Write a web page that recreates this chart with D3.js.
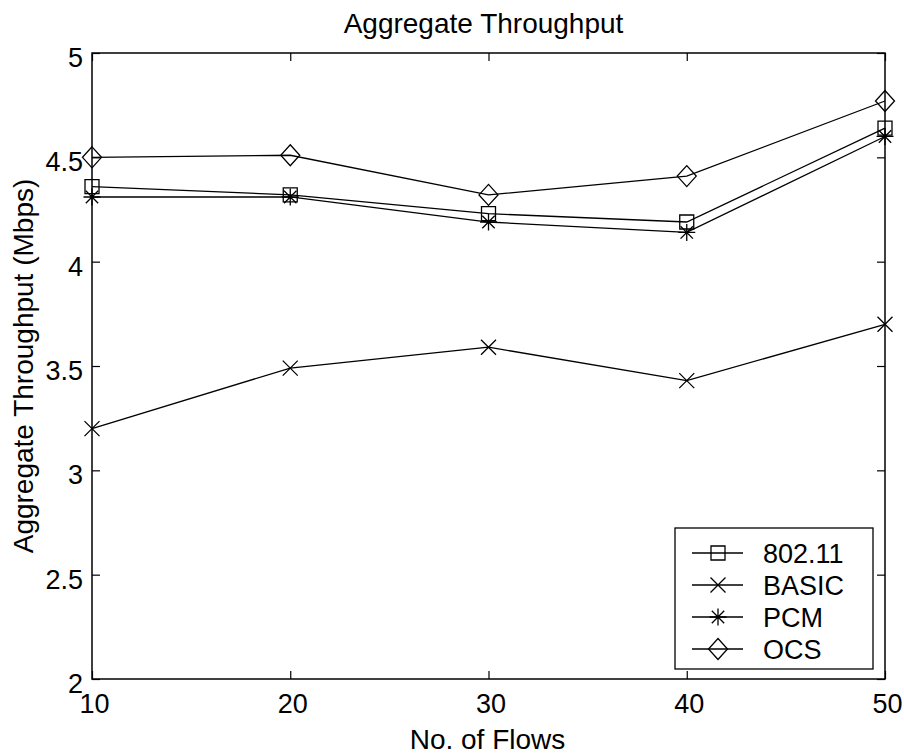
<!DOCTYPE html>
<html>
<head>
<meta charset="utf-8">
<script src="https://cdn.jsdelivr.net/npm/d3@7"></script>
<style>
  html, body { margin: 0; padding: 0; background: #fff; }
  svg { display: block; }
  text { font-family: "Liberation Sans", Arial, Helvetica, sans-serif; fill: #000; }
</style>
</head>
<body>
<svg id="chart" width="904" height="754"></svg>
<script>
// Number of flows on the x axis
const flows = [10, 20, 30, 40, 50];

// Aggregate throughput (Mbps) for each scheme
const thr80211 = [4.36, 4.32, 4.23, 4.19, 4.64];
const thrBasic = [3.20, 3.49, 3.59, 3.43, 3.70];
const thrPcm   = [4.31, 4.31, 4.19, 4.14, 4.60];
const thrOcs   = [4.50, 4.51, 4.32, 4.41, 4.77];

const seriesNames = ["802.11", "BASIC", "PCM", "OCS"];
const markerKinds = ["square", "x", "star", "diamond"];

const xTicks = [10, 20, 30, 40, 50];
const yTicks = [2, 2.5, 3, 3.5, 4, 4.5, 5];

const titleText = "Aggregate Throughput";
const xLabel = "No. of Flows";
const yLabel = "Aggregate Throughput (Mbps)";

const series = [thr80211, thrBasic, thrPcm, thrOcs].map((vals, i) => ({
  name: seriesNames[i],
  kind: markerKinds[i],
  points: vals.map((v, j) => ({ x: flows[j], y: v }))
}));

const svg = d3.select("#chart");
const plot = { left: 92, right: 885, top: 53, bottom: 679 };

const x = d3.scaleLinear().domain([10, 50]).range([plot.left, plot.right]);
const y = d3.scaleLinear().domain([2, 5]).range([plot.bottom, plot.top]);

// Marker path generators, centred on the origin
function markerPath(kind) {
  const p = d3.path();
  if (kind === "square") {
    const h = 7;
    p.rect(-h, -h, 2 * h, 2 * h);
  } else if (kind === "x") {
    const h = 7.5;
    p.moveTo(-h, -h); p.lineTo(h, h);
    p.moveTo(-h, h); p.lineTo(h, -h);
  } else if (kind === "star") {
    const h = 8.5, d = 6.2;
    p.moveTo(0, -h); p.lineTo(0, h);
    p.moveTo(-h, 0); p.lineTo(h, 0);
    p.moveTo(-d, -d); p.lineTo(d, d);
    p.moveTo(-d, d); p.lineTo(d, -d);
  } else if (kind === "diamond") {
    const w = 9.5, hh = 10.5;
    p.moveTo(0, -hh); p.lineTo(w, 0); p.lineTo(0, hh); p.lineTo(-w, 0); p.closePath();
  }
  return p.toString();
}

// Axes: ticks point inward on all four sides (boxed plot)
const tickLen = 8;
const fontTick = 27;

const gBottom = svg.append("g").attr("transform", `translate(0,${plot.bottom})`)
  .call(d3.axisBottom(x).tickValues(xTicks).tickFormat(d3.format("d"))
    .tickSizeInner(-tickLen).tickSizeOuter(0).tickPadding(15));
const gTop = svg.append("g").attr("transform", `translate(0,${plot.top})`)
  .call(d3.axisTop(x).tickValues(xTicks).tickFormat("")
    .tickSizeInner(-tickLen).tickSizeOuter(0));
const gLeft = svg.append("g").attr("transform", `translate(${plot.left},0)`)
  .call(d3.axisLeft(y).tickValues(yTicks).tickFormat(d3.format("~g"))
    .tickSizeInner(-tickLen).tickSizeOuter(0).tickPadding(9));
const gRight = svg.append("g").attr("transform", `translate(${plot.right},0)`)
  .call(d3.axisRight(y).tickValues(yTicks).tickFormat("")
    .tickSizeInner(-tickLen).tickSizeOuter(0));

[gBottom, gTop, gLeft, gRight].forEach(g => {
  g.select(".domain").remove();
  g.selectAll(".tick line").attr("stroke", "#000").attr("stroke-width", 1.2);
  g.selectAll(".tick text").attr("font-size", fontTick)
    .attr("font-family", "Liberation Sans, Arial, sans-serif").attr("fill", "#000");
});
gLeft.selectAll(".tick text").attr("dy", "0.5em");
gBottom.selectAll(".tick text").attr("dy", "0.72em").attr("dx", 2);

// Plot frame
svg.append("rect")
  .attr("x", plot.left).attr("y", plot.top)
  .attr("width", plot.right - plot.left).attr("height", plot.bottom - plot.top)
  .attr("fill", "none").attr("stroke", "#000").attr("stroke-width", 1.5);

// Series lines and markers
const line = d3.line().x(d => x(d.x)).y(d => y(d.y));
const gSeries = svg.append("g");
series.forEach(s => {
  gSeries.append("path").datum(s.points)
    .attr("d", line).attr("fill", "none").attr("stroke", "#000").attr("stroke-width", 1.3);
  gSeries.selectAll(null).data(s.points).enter().append("path")
    .attr("transform", d => `translate(${x(d.x)},${y(d.y)})`)
    .attr("d", markerPath(s.kind))
    .attr("fill", "none").attr("stroke", "#000").attr("stroke-width", 1.3);
});

// Legend
const legend = { left: 675, top: 528, width: 198, height: 141, rowY0: 553, rowGap: 32 };
const gLegend = svg.append("g");
gLegend.append("rect")
  .attr("x", legend.left).attr("y", legend.top)
  .attr("width", legend.width).attr("height", legend.height)
  .attr("fill", "#fff").attr("stroke", "#000").attr("stroke-width", 1.3);
series.forEach((s, i) => {
  const ry = legend.rowY0 + i * legend.rowGap;
  gLegend.append("line").attr("x1", 692).attr("x2", 743).attr("y1", ry).attr("y2", ry)
    .attr("stroke", "#000").attr("stroke-width", 1.3);
  gLegend.append("path").attr("transform", `translate(718,${ry})`)
    .attr("d", markerPath(s.kind)).attr("fill", "none").attr("stroke", "#000").attr("stroke-width", 1.3);
  gLegend.append("text").attr("x", 763).attr("y", ry).attr("dy", "0.36em")
    .attr("font-size", 27).text(s.name);
});

// Title and axis labels
svg.append("text").attr("x", (plot.left + plot.right) / 2 - 5).attr("y", 33)
  .attr("text-anchor", "middle").attr("font-size", 28).text(titleText);
svg.append("text").attr("x", (plot.left + plot.right) / 2 - 1).attr("y", 749)
  .attr("text-anchor", "middle").attr("font-size", 28).text(xLabel);
svg.append("text")
  .attr("transform", `translate(33,${(plot.top + plot.bottom) / 2}) rotate(-90)`)
  .attr("text-anchor", "middle").attr("font-size", 28).text(yLabel);
</script>
</body>
</html>
